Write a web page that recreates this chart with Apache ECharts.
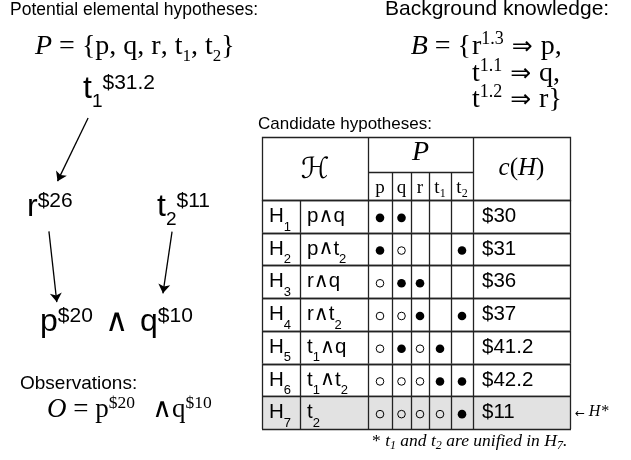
<!DOCTYPE html>
<html><head><meta charset="utf-8">
<script src="https://cdn.jsdelivr.net/npm/echarts@6/dist/echarts.min.js"></script>
<style>html,body{margin:0;padding:0;background:#fff}#c{width:631px;height:460px}</style>
</head><body><div id="c"></div>
<script>
// ---------------- data ----------------
const elements = ['p', 'q', 'r', 't1', 't2'];
const elementCosts = [20, 10, 26, 31.2, 11];
const derivations = [['t1', 'r'], ['r', 'p'], ['t2', 'q']];
const observations = ['p', 'q'];
const ruleFrom = ['r', 't', 't'];
const ruleWeights = ['1.3', '1.1', '1.2'];
const ruleTo = ['p', 'q', 'r'];
const hypIds = ['H1', 'H2', 'H3', 'H4', 'H5', 'H6', 'H7'];
const hypFormulas = ['p∧q', 'p∧t2', 'r∧q', 'r∧t2', 't1∧q', 't1∧t2', 't2'];
// 2 = ● (assumed), 1 = ○ (explained), 0 = blank
const membership = [
  [2, 2, 0, 0, 0],
  [2, 1, 0, 0, 2],
  [1, 2, 2, 0, 0],
  [1, 1, 2, 0, 2],
  [1, 2, 1, 2, 0],
  [1, 1, 1, 2, 2],
  [1, 1, 1, 1, 2]
];
const hypCosts = [30, 31, 36, 37, 41.2, 42.2, 11];

// ---------------- layout / style ----------------
const SANS = "'Liberation Sans', Arial, Helvetica, sans-serif";
const SERIF = "'Liberation Serif', 'Times New Roman', serif";
const SYM = "'DejaVu Sans', sans-serif";
const TABLE = { left: 262, top: 200, width: 308, height: 229, headTop: 137, headMid: 172,
  cols: [0, 38, 106, 130, 149, 167, 189, 211, 308] };
const NODE_POS = { t1: [101.6, 90], r: [46, 205], t2: [176, 205], p: [58.8, 320], q: [159, 320] };
const NODE_SIZE = { t1: 62, r: 53, t2: 54, p: 36, q: 54 };
const NODE_LABEL = { t1: [83, 100], r: [27, 218], t2: [157, 218], p: [40, 333], q: [140, 333] };
const LINE = '#222';

const M = 0.34, LH = 70;
function mkRich(defs, outerFs) {
  const R = LH / 2 + M * outerFs;
  const rich = {};
  for (const k in defs) {
    const d = defs[k];
    rich[k] = {
      fontSize: d.fs, fontFamily: d.ff || SERIF, fontStyle: d.st || 'normal', fontWeight: 'normal',
      fill: '#000', color: '#000', height: d.fs, lineHeight: LH, verticalAlign: 'top',
      padding: [Math.max(0, R + (d.sh || 0) - (0.5 + M) * d.fs), 0, 0, 0]
    };
  }
  return { rich, R };
}
function textEl(x, base, text, defs, outerFs, outerFf, align) {
  const r = mkRich(defs, outerFs);
  return { type: 'text', x: x, y: base - r.R, silent: true,
    style: { text: text, rich: r.rich, font: outerFs + 'px ' + (outerFf || SERIF), fill: '#000',
      align: align || 'left', verticalAlign: 'top', lineHeight: LH } };
}
function toRich(str, mainTag, subTag, opTag) {
  let out = '';
  for (const ch of str) {
    if (ch === '∧') out += '{' + opTag + '|∧}';
    else if (/\d/.test(ch)) out += '{' + subTag + '|' + ch + '}';
    else out += '{' + mainTag + '|' + ch + '}';
  }
  return out;
}
const costOf = name => elementCosts[elements.indexOf(name)];
const bestIdx = hypCosts.indexOf(Math.min.apply(null, hypCosts));

// ---------------- graphic texts ----------------
const g = [];
g.push(textEl(10, 16, '{a|Potential elemental hypotheses:}', { a: { fs: 17.5, ff: SANS } }, 17.5, SANS));
{
  let s = '{i|P}{n| = {}';
  elements.forEach((e, k) => { s += toRich(e, 'n', 'b', 'n') + (k < elements.length - 1 ? '{n|, }' : ''); });
  s += '}';
  g.push(textEl(35, 56, s, { i: { fs: 28, st: 'italic' }, n: { fs: 28 }, b: { fs: 17, sh: 6 } }, 28, SERIF));
}
g.push(textEl(385, 16, '{a|Background knowledge:}', { a: { fs: 21, ff: SANS } }, 21, SANS));
g.push(textEl(471, 56, '{i|B}{n| = {}', { i: { fs: 28, st: 'italic' }, n: { fs: 28 } }, 28, SERIF, 'right'));
const ruleDefs = { n: { fs: 28 }, p: { fs: 18, sh: -11 }, a: { fs: 25, ff: SYM } };
const ruleBase = [56, 83, 109];
ruleFrom.forEach((f, k) => {
  const last = k === ruleFrom.length - 1;
  const s = '{n|' + f + '}{p|' + ruleWeights[k] + '}{a| ⇒ }{n|' + ruleTo[k] + (last ? '' : ',') + '}' + (last ? '}' : '');
  g.push(textEl(472, ruleBase[k], s, ruleDefs, 28, SERIF));
});
g.push(textEl(258, 130, '{a|Candidate hypotheses:}', { a: { fs: 17, ff: SANS } }, 17, SANS));
g.push(textEl(20, 390, '{a|Observations:}', { a: { fs: 19, ff: SANS } }, 19, SANS));
{
  let s = '{i|O}{n| = }' + observations.map(o => '{n|' + o + '}{p|$' + costOf(o) + '}').join('{a|  ∧}');
  g.push(textEl(47, 419, s, { i: { fs: 27, st: 'italic' }, n: { fs: 27 }, p: { fs: 17.5, sh: -10 }, a: { fs: 27, ff: SYM } }, 27, SERIF));
}
// conjunction of the observed nodes in the diagram
g.push(textEl(105, 334, '{a|∧}', { a: { fs: 32, ff: SYM } }, 32, SYM));
// footnote
g.push(textEl(372, 447, '{a|* }{i|t}{b|1}{i| and t}{b|2}{i| are unified in H}{b|7}{i|.}',
  { a: { fs: 17.5 }, i: { fs: 17.5, st: 'italic' }, b: { fs: 12, sh: 3, st: 'italic' } }, 17.5, SERIF));

// table header
{
  const L = TABLE.left, T = TABLE.headTop, B = TABLE.top, MID = TABLE.headMid, C = TABLE.cols;
  const px = v => Math.round(v) + 0.5;
  const st = { stroke: LINE, lineWidth: 1.3 };
  g.push({ type: 'rect', silent: true, shape: { x: px(L), y: px(T), width: TABLE.width, height: B - T }, style: { fill: '#fff', stroke: LINE, lineWidth: 1.3 } });
  [C[2], C[7]].forEach(c => g.push({ type: 'line', silent: true, shape: { x1: px(L + c), y1: T, x2: px(L + c), y2: B }, style: st }));
  g.push({ type: 'line', silent: true, shape: { x1: L + C[2], y1: px(MID), x2: L + C[7], y2: px(MID) }, style: st });
  for (let k = 3; k < 7; k++) g.push({ type: 'line', silent: true, shape: { x1: px(L + C[k]), y1: MID, x2: px(L + C[k]), y2: B }, style: st });
  g.push(textEl(L + C[2] / 2, 180, '{h|ℋ}', { h: { fs: 29, ff: "'DejaVu Serif', 'DejaVu Sans'", st: 'italic' } }, 29, SERIF, 'center'));
  g.push(textEl(L + (C[2] + C[7]) / 2, 162, '{i|P}', { i: { fs: 28, st: 'italic' } }, 28, SERIF, 'center'));
  g.push(textEl(L + (C[7] + C[8]) / 2, 177, '{i|c}{n|(}{i|H}{n|)}', { i: { fs: 25, st: 'italic' }, n: { fs: 25 } }, 25, SERIF, 'center'));
  elements.forEach((e, k) => {
    g.push(textEl(L + (C[2 + k] + C[3 + k]) / 2, 194, toRich(e, 'e', 's', 'e'), { e: { fs: 19 }, s: { fs: 12, sh: 4 } }, 19, SERIF, 'center'));
  });
}

// ---------------- chart ----------------
const chart = echarts.init(document.getElementById('c'), null, { renderer: 'canvas' });
const nodeRich = mkRich({ m: { fs: 32, ff: SANS }, ms: { fs: 19, ff: SANS, sh: 8 }, sup: { fs: 21, ff: SANS, sh: -10 } }, 32);
const cellRich = mkRich({ f: { fs: 20.5, ff: SANS }, s: { fs: 13, ff: SANS, sh: 8 }, o: { fs: 20.5, ff: SYM },
  c: { fs: 20.5, ff: SANS }, ar: { fs: 12, ff: SYM }, hs: { fs: 16, st: 'italic' } }, 20.5);

chart.setOption({
  animation: false,
  grid: { left: TABLE.left, top: TABLE.top, width: TABLE.width, height: TABLE.height, show: false, containLabel: false, outerBoundsMode: 'none' },
  xAxis: { type: 'value', min: 0, max: TABLE.width, show: false },
  yAxis: { type: 'category', data: hypIds, inverse: true, show: false },
  graphic: g,
  series: [
    {
      type: 'graph', layout: 'none', roam: false, silent: true,
      left: 46, top: 90, width: 130, height: 230,
      symbol: 'circle', itemStyle: { color: 'rgba(0,0,0,0)' },
      edgeSymbol: ['circle', 'arrow'], edgeSymbolSize: [0, 9],
      lineStyle: { color: '#000', width: 1.3, opacity: 1, curveness: 0 },
      emphasis: { disabled: true },
      data: elements.map((e, k) => ({
        name: e, x: NODE_POS[e][0], y: NODE_POS[e][1], symbolSize: NODE_SIZE[e],
        label: {
          show: true, position: 'inside', align: 'left', verticalAlign: 'top',
          offset: [NODE_LABEL[e][0] - NODE_POS[e][0], NODE_LABEL[e][1] - nodeRich.R - NODE_POS[e][1]],
          fontSize: 32, fontFamily: SANS, lineHeight: LH, color: '#000',
          rich: nodeRich.rich,
          formatter: toRich(e, 'm', 'ms', 'm') + '{sup|$' + elementCosts[k] + '}'
        }
      })),
      links: derivations.map(d => ({ source: d[0], target: d[1] }))
    },
    {
      type: 'custom', coordinateSystem: 'cartesian2d', clip: false, silent: true,
      encode: { x: 0, y: 1 },
      data: hypIds.map((id, i) => [0, i]),
      renderItem: function (params, api) {
        const i = api.value(1);
        const cy = api.coord([0, i])[1];
        const h = api.size([0, 1])[1];
        const y0 = cy - h / 2;
        const X = v => api.coord([v, i])[0];
        const px = v => Math.round(v) + 0.5;
        const C = TABLE.cols;
        const kids = [];
        const ls = { stroke: LINE, lineWidth: 1.3 };
        if (i === bestIdx) {
          kids.push({ type: 'rect', shape: { x: X(0), y: y0, width: X(TABLE.width) - X(0), height: h },
            style: { fill: '#e2e2e2' } });
        }
        C.forEach(c => kids.push({ type: 'line', shape: { x1: px(X(c)), y1: y0, x2: px(X(c)), y2: y0 + h }, style: ls }));
        [y0, y0 + h].forEach(yy => kids.push({ type: 'line', shape: { x1: X(0), y1: px(yy), x2: X(TABLE.width) + 1, y2: px(yy) }, style: ls }));
        const base = cy + 7;
        const mk = (x, text, b) => ({ type: 'text', x: x, y: (b || base) - cellRich.R,
          style: { text: text, rich: cellRich.rich, font: '20.5px ' + SANS, fill: '#000', align: 'left', verticalAlign: 'top', lineHeight: LH } });
        kids.push(mk(X(C[0]) + 7, toRich(hypIds[i], 'f', 's', 'o')));
        kids.push(mk(X(C[1]) + 7, toRich(hypFormulas[i], 'f', 's', 'o')));
        kids.push(mk(X(C[7]) + 9, '{c|$' + hypCosts[i] + '}'));
        membership[i].forEach((m, k) => {
          if (!m) return;
          const cx = (X(C[2 + k]) + X(C[3 + k])) / 2;
          kids.push({ type: 'circle', shape: { cx: cx, cy: cy + 1.5, r: m === 2 ? 4.3 : 3.8 },
            style: m === 2 ? { fill: '#000' } : { fill: 'none', stroke: '#000', lineWidth: 1 } });
        });
        if (i === bestIdx) kids.push(mk(X(TABLE.width) + 5, '{ar|← }{hs|H*}', cy + 5));
        return { type: 'group', children: kids };
      }
    }
  ]
});
</script></body></html>
